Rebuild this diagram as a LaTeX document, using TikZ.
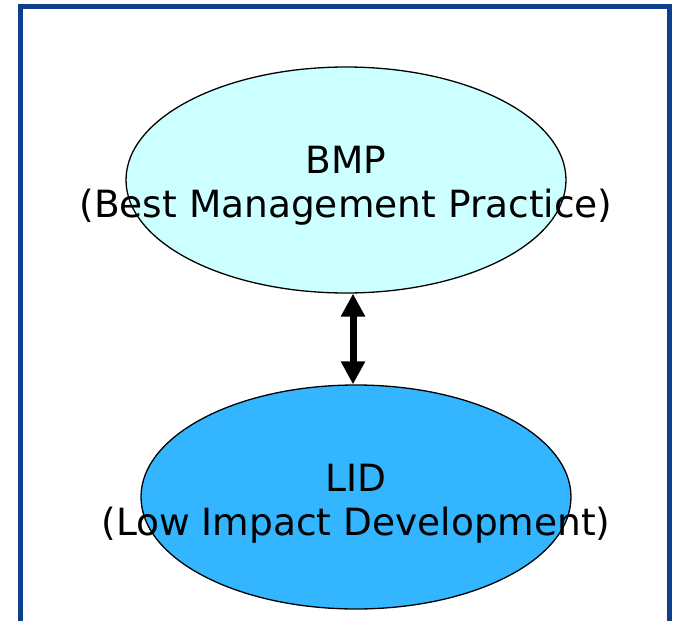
\documentclass[tikz,border=0pt]{standalone}
\usepackage{fontspec}
\setmainfont{DejaVu Sans}
\usetikzlibrary{arrows.meta,shapes.geometric}
\definecolor{frameblue}{HTML}{0E3F8C}
\definecolor{bmpfill}{HTML}{CCFFFF}
\definecolor{lidfill}{HTML}{33B5FF}
\begin{document}
\begin{tikzpicture}[x=1pt,y=-1pt,
  blob/.style={ellipse,draw=black,line width=1.3pt,inner sep=0pt},
  label/.style={font=\fontsize{37.5}{44}\selectfont,align=center,inner sep=0pt,anchor=base},
  link/.style={line width=7pt,{Triangle[width=23pt,length=23pt]}-{Triangle[width=23pt,length=23pt]}}]
\useasboundingbox (0,0) rectangle (673,621);
\draw[frameblue,line width=5pt] (20.5,640) -- (20.5,6.5) -- (669.5,6.5) -- (669.5,640);
\node[blob,fill=bmpfill,minimum width=440pt,minimum height=226pt] (bmp) at (346,180) {};
\node[blob,fill=lidfill,minimum width=430pt,minimum height=224pt] (lid) at (356,497) {};
\node[label] (bmptext) at (346,217) {BMP\\(Best Management Practice)};
\node[label] (lidtext) at (356,535) {LID\\(Low Impact Development)};
\draw[link] ([xshift=7pt]bmp.south) -- ([xshift=-3pt]lid.north);
\end{tikzpicture}
\end{document}
